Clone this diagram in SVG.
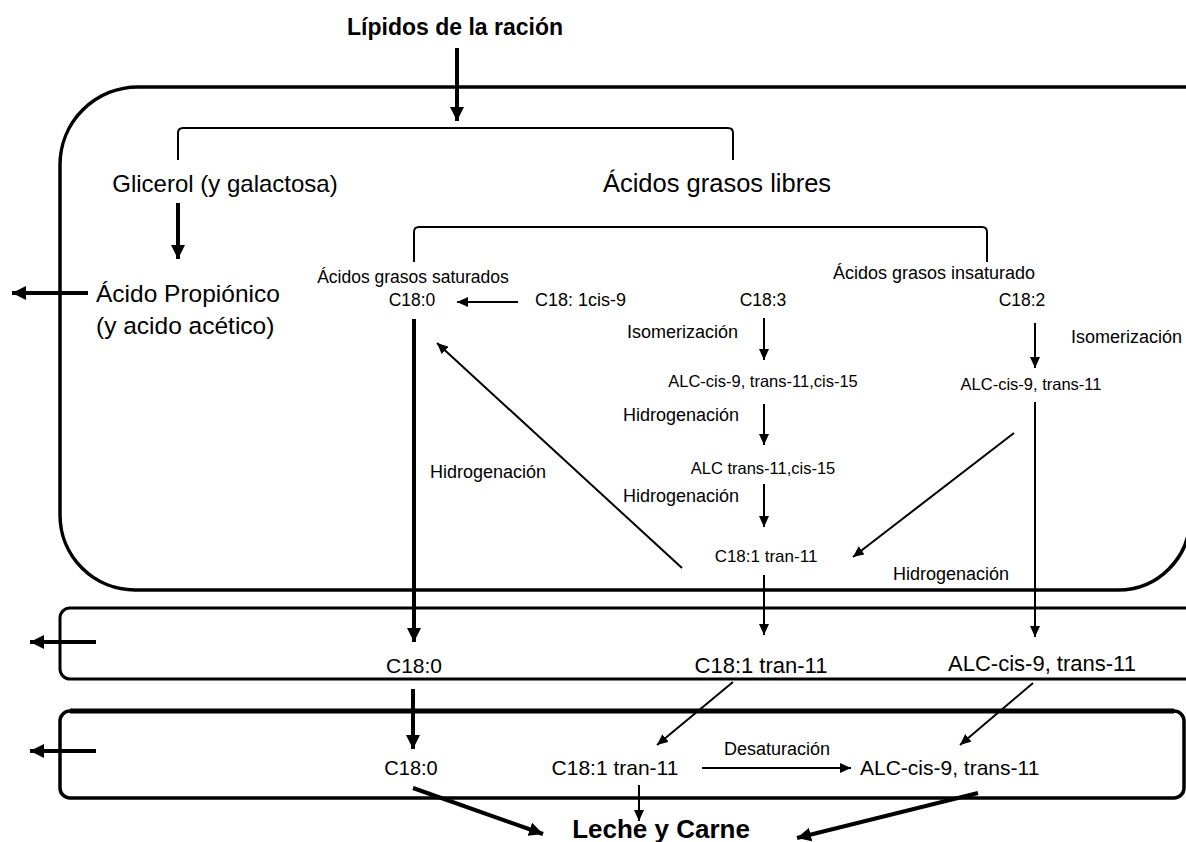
<svg xmlns="http://www.w3.org/2000/svg" width="1186" height="842" viewBox="0 0 1186 842">
<style>
text{font-family:"Liberation Sans",Arial,sans-serif;fill:#000}
.b{font-weight:bold}
.box{fill:none;stroke:#000}
.t{stroke:#000;fill:none;stroke-width:2}
.k{stroke:#000;fill:none;stroke-width:4}
.br{stroke:#000;fill:none;stroke-width:2}
.lab{font-size:18px}
</style>
<defs>
<marker id="ah" markerUnits="userSpaceOnUse" markerWidth="12" markerHeight="10" refX="11" refY="5" orient="auto"><path d="M0,0 L11,5 L0,10 z" fill="#000"/></marker>
<marker id="ahk" markerUnits="userSpaceOnUse" markerWidth="15" markerHeight="14" refX="14" refY="7" orient="auto"><path d="M0,0 L14,7 L0,14 z" fill="#000"/></marker>
</defs>
<rect width="1186" height="842" fill="#fff"/>
<g id="containers">
<path class="box" stroke-width="3.5" d="M1200,87 L138,87 A78,78 0 0 0 60,165 L60,515 A75,75 0 0 0 135,590 L1118,590 A72,72 0 0 0 1190,518 L1190,80"/>
<rect class="box" x="60" y="608" width="1150" height="71" rx="10" stroke-width="3"/>
<rect class="box" x="60" y="711" width="1124" height="87" rx="10" stroke-width="3.5"/>
<line x1="70" y1="711" x2="1174" y2="711" stroke="#000" stroke-width="5"/>
</g>
<g id="brackets">
<path class="br" d="M178,160 L178,133 Q178,128 183,128 L728,128 Q733,128 733,133 L733,160"/>
<path class="br" d="M414,262 L414,232 Q414,227 419,227 L982,227 Q987,227 987,232 L987,262"/>
</g>
<g id="n-lipidos"><text class="b" x="455" y="35" font-size="23" text-anchor="middle">Lípidos de la ración</text></g>
<g id="n-glicerol"><text x="225" y="192" font-size="24" text-anchor="middle">Glicerol (y galactosa)</text></g>
<g id="n-agl"><text x="717" y="192" font-size="25.5" text-anchor="middle">Ácidos grasos libres</text></g>
<g id="n-propionico"><text x="96" y="302" font-size="24.5">Ácido Propiónico</text><text x="96" y="334" font-size="24.5">(y acido acético)</text></g>
<g id="n-saturados"><text x="413" y="283" font-size="17.5" text-anchor="middle">Ácidos grasos saturados</text><text x="412" y="306" font-size="17.5" text-anchor="middle">C18:0</text></g>
<g id="n-c181cis"><text x="535" y="306" font-size="18">C18: 1cis-9</text></g>
<g id="n-c183"><text x="763" y="306" font-size="17.5" text-anchor="middle">C18:3</text></g>
<g id="n-insaturado"><text x="1035" y="279" font-size="18" text-anchor="end">Ácidos grasos insaturado</text><text x="1022" y="306" font-size="17.5" text-anchor="middle">C18:2</text></g>
<g id="n-alc1"><text x="763" y="387" font-size="16.5" text-anchor="middle">ALC-cis-9, trans-11,cis-15</text></g>
<g id="n-alc2"><text x="1031" y="390" font-size="16.5" text-anchor="middle">ALC-cis-9, trans-11</text></g>
<g id="n-alc3"><text x="763" y="474" font-size="16.5" text-anchor="middle">ALC trans-11,cis-15</text></g>
<g id="n-c181t"><text x="766" y="562" font-size="17" text-anchor="middle">C18:1 tran-11</text></g>
<g id="labels">
<text class="lab" x="627" y="338">Isomerización</text>
<text class="lab" x="1071" y="343">Isomerización</text>
<text class="lab" x="623" y="421">Hidrogenación</text>
<text class="lab" x="623" y="502">Hidrogenación</text>
<text class="lab" x="430" y="478">Hidrogenación</text>
<text class="lab" x="893" y="580">Hidrogenación</text>
<text class="lab" x="724" y="755">Desaturación</text>
</g>
<g id="n-band1">
<text x="414" y="673" font-size="21" text-anchor="middle">C18:0</text>
<text x="761" y="673" font-size="22" text-anchor="middle">C18:1 tran-11</text>
<text x="1042" y="671" font-size="22" text-anchor="middle">ALC-cis-9, trans-11</text>
</g>
<g id="n-band2">
<text x="411" y="775" font-size="20" text-anchor="middle">C18:0</text>
<text x="615" y="775" font-size="21" text-anchor="middle">C18:1 tran-11</text>
<text x="860" y="775" font-size="21">ALC-cis-9, trans-11</text>
</g>
<g id="n-leche"><text class="b" x="661" y="838" font-size="26" text-anchor="middle">Leche y Carne</text></g>
<g id="connectors">
<line class="k" x1="457" y1="48" x2="457" y2="121" stroke-width="3" marker-end="url(#ahk)"/>
<line class="k" x1="178" y1="203" x2="178" y2="259" marker-end="url(#ahk)"/>
<line class="k" x1="88" y1="293" x2="12" y2="293" marker-end="url(#ahk)"/>
<line class="t" x1="518" y1="302" x2="457" y2="302" stroke-width="2.5" marker-end="url(#ah)"/>
<line class="t" x1="764" y1="318" x2="764" y2="360" marker-end="url(#ah)"/>
<line class="t" x1="1035" y1="323" x2="1035" y2="368" marker-end="url(#ah)"/>
<line class="t" x1="764" y1="404" x2="764" y2="445" marker-end="url(#ah)"/>
<line class="t" x1="764" y1="484" x2="764" y2="527" marker-end="url(#ah)"/>
<line class="t" x1="682" y1="568" x2="437" y2="343" marker-end="url(#ah)"/>
<line class="k" x1="414" y1="319" x2="414" y2="642" marker-end="url(#ahk)"/>
<line class="t" x1="1014" y1="433" x2="853" y2="557" marker-end="url(#ah)"/>
<line class="t" x1="1035" y1="402" x2="1035" y2="637" marker-end="url(#ah)"/>
<line class="t" x1="764" y1="575" x2="764" y2="635" marker-end="url(#ah)"/>
<line class="k" x1="96" y1="642" x2="30" y2="642" marker-end="url(#ahk)"/>
<line class="k" x1="96" y1="751" x2="30" y2="751" marker-end="url(#ahk)"/>
<line class="k" x1="413" y1="689" x2="413" y2="749" marker-end="url(#ahk)"/>
<line class="t" x1="733" y1="682" x2="657" y2="745" marker-end="url(#ah)"/>
<line class="t" x1="1033" y1="683" x2="960" y2="745" marker-end="url(#ah)"/>
<line class="t" x1="702" y1="768" x2="851" y2="768" marker-end="url(#ah)"/>
<line class="t" x1="639" y1="785" x2="639" y2="821" marker-end="url(#ah)"/>
<line class="k" x1="413" y1="788" x2="543" y2="834" marker-end="url(#ahk)"/>
<line class="k" x1="978" y1="793" x2="797" y2="838" marker-end="url(#ahk)"/>
</g>
</svg>
